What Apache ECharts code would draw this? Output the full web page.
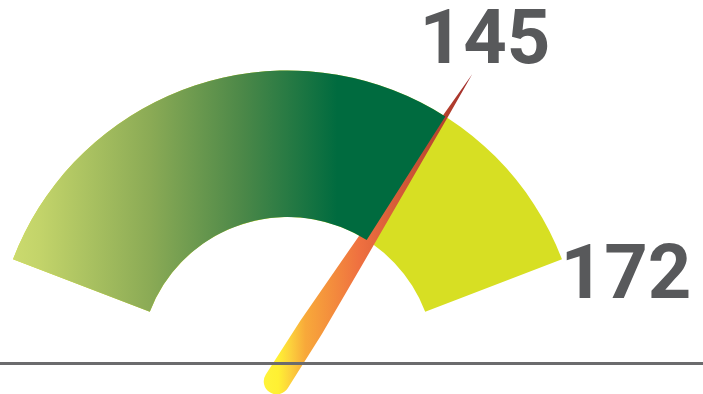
<!DOCTYPE html>
<html>
<head>
<meta charset="utf-8">
<style>
  html, body { margin: 0; padding: 0; background: #ffffff; }
  #chart { width: 703px; height: 394px; }
</style>
<script src="https://cdn.jsdelivr.net/npm/echarts@6/dist/echarts.min.js"></script>
</head>
<body>
<div id="chart"></div>
<script>
// ---- data ----
const categories = ['Value'];
const values = [145];
const axisRange = [70, 172];          // gauge min / max
const tickLabels = ['172'];           // label shown at the end of the scale

const chart = echarts.init(document.getElementById('chart'), null, { renderer: 'canvas' });

const CX = 287.5, CY = 364.5, R = 294, BAND = 146.5;
const FONT = 'Roboto';
const TEXT_COLOR = '#58595b';

const option = {
  animation: false,
  backgroundColor: '#ffffff',
  series: [{
    type: 'gauge',
    name: categories[0],
    center: [CX, CY],
    radius: R,
    startAngle: 159,
    endAngle: 21,
    min: axisRange[0],
    max: axisRange[1],
    splitNumber: 1,
    axisLine: {
      show: true,
      roundCap: false,
      lineStyle: { width: BAND, color: [[1, '#d7df23']] }
    },
    progress: {
      show: true,
      overlap: true,
      roundCap: false,
      width: BAND,
      itemStyle: {
        color: {
          type: 'linear', x: 0, y: 0, x2: 1, y2: 0,
          colorStops: [
            { offset: 0, color: '#cbda6e' },
            { offset: 0.06, color: '#c3d46a' },
            { offset: 0.32, color: '#8aaa55' },
            { offset: 0.53, color: '#4c8848' },
            { offset: 0.75, color: '#006b3f' },
            { offset: 1, color: '#006b3f' }
          ]
        }
      }
    },
    axisTick: { show: false },
    splitLine: { show: false },
    axisLabel: { show: false },
    anchor: { show: false },
    title: { show: false },
    pointer: {
      show: true,
      icon: 'path://M13 0 L15.3 46 L22.6 220 L25.6 300 L26 364 A13 13 0 0 1 0 364 L0.4 300 L3.4 220 L10.7 46 Z',
      keepAspect: false,
      length: 377,
      width: 26,
      offsetCenter: [0, 33],
      itemStyle: {
        color: {
          type: 'linear', x: -0.28, y: 0.946, x2: 6.48, y2: 0.648,
          colorStops: [
            { offset: 0, color: '#fff33a' },
            { offset: 0.07, color: '#fff033' },
            { offset: 0.13, color: '#fcd03c' },
            { offset: 0.2, color: '#f8a93a' },
            { offset: 0.46, color: '#ef7040' },
            { offset: 0.88, color: '#b5412e' },
            { offset: 1, color: '#9e2a2b' }
          ]
        }
      }
    },
    detail: {
      show: true,
      valueAnimation: false,
      formatter: '{value}',
      offsetCenter: [197.5, -321],
      fontSize: 76,
      fontFamily: FONT,
      fontWeight: 'bold',
      color: TEXT_COLOR
    },
    data: [{ value: values[0], name: categories[0] }]
  }],
  graphic: [
    {
      type: 'line',
      z: 100,
      shape: { x1: 0, y1: 363.5, x2: 703, y2: 363.5 },
      style: { stroke: '#6b6b6d', lineWidth: 3 }
    },
    {
      type: 'text',
      z: 100,
      x: 626,
      y: 278.6,
      style: {
        text: tickLabels[0],
        fontSize: 76,
        fontFamily: FONT,
        fontWeight: 'bold',
        fill: TEXT_COLOR,
        align: 'center',
        verticalAlign: 'middle'
      }
    }
  ]
};

chart.setOption(option);
</script>
</body>
</html>
